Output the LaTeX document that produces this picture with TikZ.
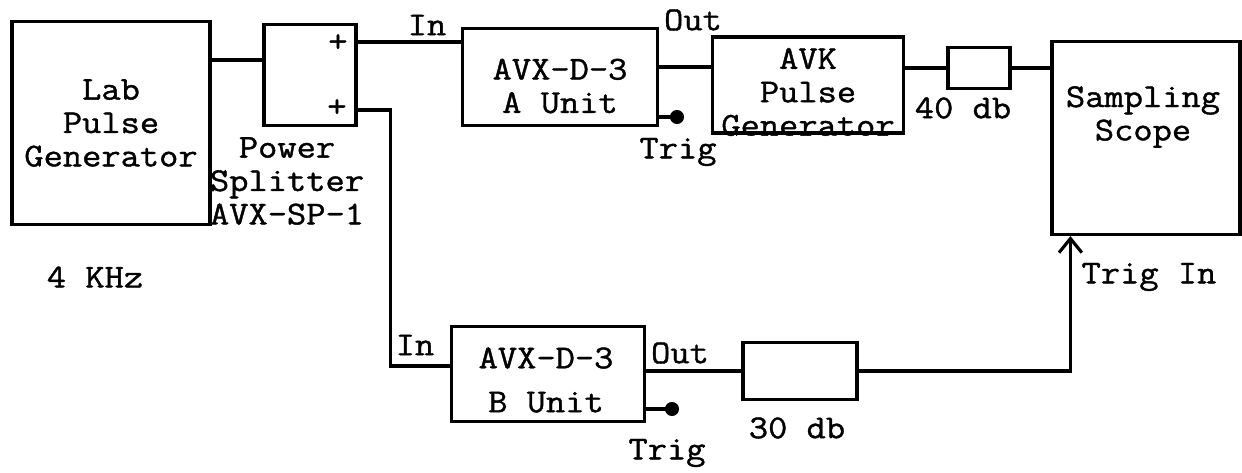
\documentclass[tikz,border=0pt]{standalone}
\usepackage{fontspec}
\usepackage{tikz}
\usetikzlibrary{arrows.meta}
\newfontfamily\courfont[FakeStretch=1.12,FakeBold=1.2]{Latin Modern Mono}

\begin{document}
\begin{tikzpicture}[x=0.02cm,y=-0.02cm,line width=1.8pt,
  every node/.style={font=\courfont\fontsize{19}{19}\selectfont},
  sz/.style 2 args={minimum width=#1*0.02cm,minimum height=#2*0.02cm},
  box/.style={draw,rectangle,inner sep=0pt,align=center},
  txt/.style={align=center,inner sep=0pt},
  dot/.style={circle,fill,inner sep=0pt,minimum size=8pt}]
  \useasboundingbox (0,0) rectangle (1242,473);

  % boxes
  \node[box,sz={198}{203}] (lab) at (111,123) {Lab\\Pulse\\Generator};
  \node[box,sz={92}{101}] (split) at (310,75) {};
  \node[box,sz={195}{97}] (unitA) at (560,77) {};
  \node[box,sz={191}{96}] (avk) at (808,85) {};
  \node[box,sz={62}{41}] (att40) at (979,68) {};
  \node[box,sz={188}{193}] (scope) at (1146,138) {};
  \node[box,sz={193}{95}] (unitB) at (548,374) {};
  \node[box,sz={114}{57}] (att30) at (800,371) {};

  % labels
  \node[txt] (unitAlbl) at (560,86) {AVX-D-3\\A Unit};
  \node[txt] (avklbl) at (808,92) {AVK\\Pulse\\Generator};
  \node[txt] (unitBlbl) at (546,380) {AVX-D-3\\[6pt]B Unit};
  \node[txt] (plus1) at (338,43) {+};
  \node[txt] (plus2) at (337,108) {+};
  \node[txt] (splitlbl) at (287,181) {Power\\Splitter\\AVX-SP-1};
  \node[txt] (freq) at (95,277) {4 KHz};
  \node[txt] (inA) at (427,25) {In};
  \node[txt] (outA) at (693,20) {Out};
  \node[txt] (trigA) at (678,152) {Trig};
  \node[txt] (lbl40) at (963,108) {40 db};
  \node[txt] (scopelbl) at (1143,117) {Sampling\\Scope};
  \node[txt] (trigin) at (1149,277) {Trig In};
  \node[txt] (inB) at (415,345) {In};
  \node[txt] (outB) at (680,353) {Out};
  \node[txt] (trigB) at (667,453) {Trig};
  \node[txt] (lbl30) at (797,428) {30 db};
  \node[dot] (dA) at (677,117) {};
  \node[dot] (dB) at (672,409) {};

  % wires
  \draw (lab.east |- 0,60) -- (split.west |- 0,60);
  \draw (split.east |- 0,42) -- (unitA.west |- 0,42);
  \draw (split.east |- 0,110) -- ++(33,0) |- (unitB.west |- 0,366);
  \draw (unitA.east |- 0,67) -- (avk.west |- 0,67);
  \draw (avk.east |- att40.west) -- (att40.west);
  \draw (att40.east) -- (scope.west |- att40.east);
  \draw (unitA.east |- dA) -- (dA.center);
  \draw (unitB.east |- att30.west) -- (att30.west);
  \draw (unitB.east |- dB) -- (dB.center);
  \draw[-{Straight Barb[length=8pt,width=13pt]}] (att30.east) -| ([xshift=0.4cm]scope.south west);
\end{tikzpicture}
\end{document}
